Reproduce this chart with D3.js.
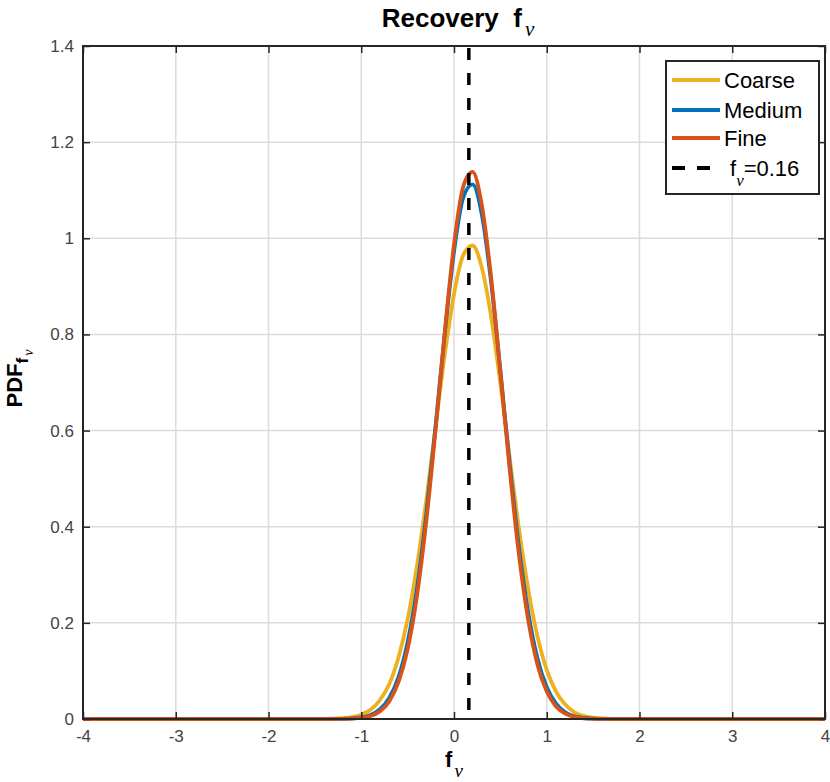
<!DOCTYPE html>
<html>
<head>
<meta charset="utf-8">
<script src="https://cdn.jsdelivr.net/npm/d3@7"></script>
<style>
  body { margin: 0; background: #fff; }
  svg text { font-family: "Liberation Sans", Arial, sans-serif; }
</style>
</head>
<body>
<div id="chart"></div>
<script>
// sample positions along f_nu (shared by all three series)
const xs = [-4, -1.5, -1.4, -1.3, -1.2, -1.1, -1.0, -0.9, -0.8, -0.7, -0.6, -0.5, -0.4, -0.3, -0.2, -0.1,
  0, 0.1, 0.2, 0.3, 0.4, 0.5, 0.6, 0.7, 0.8, 0.9, 1.0, 1.1, 1.2, 1.3, 1.4, 1.5, 1.6, 1.7, 1.8, 1.9, 4];

const coarse = [0, 0.0001, 0.0002, 0.0006, 0.0016, 0.0039, 0.009, 0.019, 0.039, 0.072, 0.127, 0.207, 0.317, 0.453, 0.606, 0.757,
  0.884, 0.965, 0.985, 0.939, 0.837, 0.698, 0.544, 0.396, 0.270, 0.172, 0.102, 0.057, 0.030, 0.014, 0.0065, 0.0028, 0.0011, 0.0004, 0.0001, 0, 0];
const medium = [0, 0, 0, 0.0001, 0.0004, 0.0011, 0.0032, 0.0083, 0.0197, 0.043, 0.086, 0.160, 0.271, 0.423, 0.607, 0.801,
  0.972, 1.085, 1.112, 1.049, 0.909, 0.725, 0.531, 0.358, 0.222, 0.126, 0.066, 0.032, 0.014, 0.0057, 0.0021, 0.0007, 0.0002, 0.0001, 0, 0, 0];
const fine = [0, 0, 0, 0.0001, 0.0002, 0.0008, 0.0023, 0.0063, 0.0158, 0.036, 0.076, 0.145, 0.255, 0.409, 0.599, 0.804,
  0.987, 1.108, 1.138, 1.069, 0.919, 0.722, 0.520, 0.342, 0.206, 0.113, 0.057, 0.026, 0.011, 0.0043, 0.0015, 0.0005, 0.0001, 0, 0, 0, 0];

const trueValue = 0.16;
const xTicks = [-4, -3, -2, -1, 0, 1, 2, 3, 4];
const yTicks = [0, 0.2, 0.4, 0.6, 0.8, 1, 1.2, 1.4];

const series = [
  { name: 'Coarse', values: coarse, color: '#EDB120' },
  { name: 'Medium', values: medium, color: '#0072BD' },
  { name: 'Fine', values: fine, color: '#D95319' },
];

const width = 830, height = 782;
const margin = { top: 46, right: 5, bottom: 63, left: 83 };
const w = width - margin.left - margin.right;
const h = height - margin.top - margin.bottom;
const axisColor = '#262626';
const labelColor = '#444';

const svgRoot = d3.select('#chart').append('svg').attr('width', width).attr('height', height);
svgRoot.append('rect').attr('width', width).attr('height', height).attr('fill', '#fff');
const svg = svgRoot.append('g').attr('transform', `translate(${margin.left},${margin.top})`);

const x = d3.scaleLinear().domain([-4, 4]).range([0, w]);
const y = d3.scaleLinear().domain([0, 1.4]).range([h, 0]);

// grid
svg.append('g').selectAll('line').data(xTicks).join('line')
  .attr('x1', d => x(d)).attr('x2', d => x(d)).attr('y1', 0).attr('y2', h)
  .attr('stroke', '#dcdcdc').attr('stroke-width', 1.5);
svg.append('g').selectAll('line').data(yTicks).join('line')
  .attr('x1', 0).attr('x2', w).attr('y1', d => y(d)).attr('y2', d => y(d))
  .attr('stroke', '#dcdcdc').attr('stroke-width', 1.5);

// curves
const line = d3.line().x((d, i) => x(xs[i])).y(d => y(d)).curve(d3.curveMonotoneX);
series.forEach(s => {
  svg.append('path').datum(s.values)
    .attr('d', line)
    .attr('fill', 'none')
    .attr('stroke', s.color)
    .attr('stroke-width', 3.8)
    .attr('stroke-linejoin', 'round');
});

// true value marker
svg.append('line')
  .attr('x1', x(trueValue)).attr('x2', x(trueValue))
  .attr('y1', 2).attr('y2', h)
  .attr('stroke', '#000').attr('stroke-width', 3.5)
  .attr('stroke-dasharray', '12 13');

// axes (ticks inward, MATLAB box style)
const styleAxis = g => {
  g.select('.domain').remove();
  g.selectAll('.tick line').attr('stroke', axisColor).attr('stroke-width', 1.5);
  g.selectAll('.tick text').attr('fill', labelColor).style('font-size', '17px');
};
svg.append('g').attr('transform', `translate(0,${h})`)
  .call(d3.axisBottom(x).tickValues(xTicks).tickSize(-7).tickPadding(11).tickFormat(d => String(d)))
  .call(styleAxis);
svg.append('g')
  .call(d3.axisLeft(y).tickValues(yTicks).tickSize(-7).tickPadding(9).tickFormat(d => String(d)))
  .call(styleAxis);
svg.append('g')
  .call(d3.axisTop(x).tickValues(xTicks).tickSize(-7).tickFormat(''))
  .call(styleAxis);
svg.append('g').attr('transform', `translate(${w},0)`)
  .call(d3.axisRight(y).tickValues(yTicks).tickSize(-7).tickFormat(''))
  .call(styleAxis);

svg.append('rect').attr('x', 0).attr('y', 0).attr('width', w).attr('height', h)
  .attr('fill', 'none').attr('stroke', axisColor).attr('stroke-width', 2);

// title
const title = svgRoot.append('text')
  .attr('x', margin.left + w / 2 + 4).attr('y', 27)
  .attr('text-anchor', 'middle')
  .style('font-size', '26px').style('font-weight', 'bold').attr('fill', '#000');
title.append('tspan').text('Recovery\u00a0\u00a0f');
title.append('tspan').text('ν').attr('dy', 9).attr('dx', 3)
  .style('font-family', '"Liberation Serif", serif').style('font-style', 'italic')
  .style('font-weight', 'normal').style('font-size', '21px');

// x label
const xl = svgRoot.append('text')
  .attr('x', margin.left + w / 2).attr('y', 767)
  .attr('text-anchor', 'middle')
  .style('font-size', '22px').style('font-weight', 'bold').attr('fill', '#000');
xl.append('tspan').text('f');
xl.append('tspan').text('ν').attr('dy', 10).attr('dx', 2)
  .style('font-family', '"Liberation Serif", serif').style('font-style', 'italic')
  .style('font-weight', 'normal').style('font-size', '19px');

// y label
const yl = svgRoot.append('text')
  .attr('transform', `translate(22,${margin.top + h / 2 - 4}) rotate(-90)`)
  .attr('text-anchor', 'middle')
  .style('font-size', '22px').style('font-weight', 'bold').attr('fill', '#000');
yl.append('tspan').text('PDF');
yl.append('tspan').text('f').attr('dy', 6).style('font-size', '17px');
yl.append('tspan').text('ν').attr('dy', 5).attr('dx', 2)
  .style('font-family', '"Liberation Serif", serif').style('font-style', 'italic')
  .style('font-weight', 'normal').style('font-size', '14px');

// legend
const legend = svgRoot.append('g').attr('transform', 'translate(666,61)');
legend.append('rect').attr('width', 153).attr('height', 133)
  .attr('fill', '#fff').attr('stroke', axisColor).attr('stroke-width', 2);
const rowY = [19, 49, 77, 107];
const entries = [...series.map(s => ({ name: s.name, color: s.color, dash: null })),
  { name: null, color: '#000', dash: '13 12' }];
entries.forEach((e, i) => {
  legend.append('line')
    .attr('x1', 6).attr('x2', e.dash ? 44 : 54).attr('y1', rowY[i]).attr('y2', rowY[i])
    .attr('stroke', e.color).attr('stroke-width', 3.8)
    .attr('stroke-dasharray', e.dash);
  const t = legend.append('text').attr('x', 58).attr('y', rowY[i] + 8)
    .style('font-size', '22px').attr('fill', '#000');
  if (e.name) {
    t.text(e.name);
  } else {
    t.attr('x', 64);
    t.append('tspan').text('f');
    t.append('tspan').text('ν').attr('dy', 10)
      .style('font-family', '"Liberation Serif", serif').style('font-style', 'italic').style('font-size', '17px');
    t.append('tspan').text('=' + trueValue).attr('dy', -10);
  }
});
</script>
</body>
</html>
